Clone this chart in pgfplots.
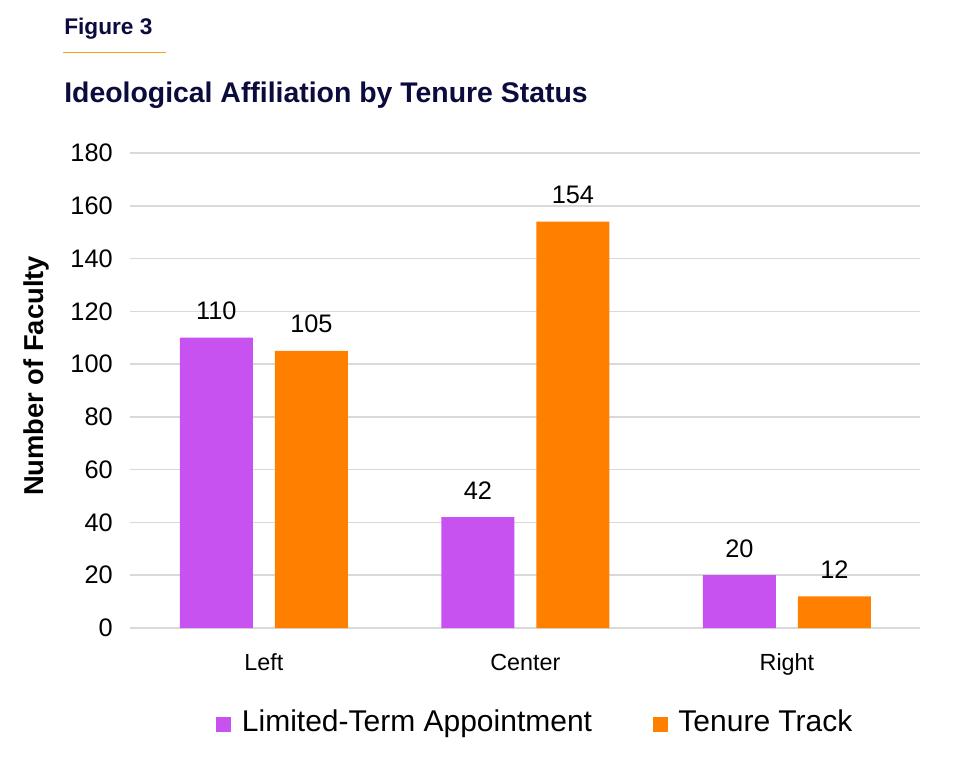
\documentclass[border=0pt]{standalone}
\usepackage{pgfplots}
\pgfplotsset{compat=1.18}
\usepackage{fontspec}
\setmainfont{Liberation Sans}

\definecolor{ltpurple}{HTML}{C852F0}
\definecolor{ttorange}{HTML}{FF8000}
\definecolor{navy}{HTML}{0B0B3D}
\definecolor{rulecol}{HTML}{F5A01A}
\definecolor{gridgrey}{HTML}{D9D9D9}

\begin{document}
\begin{tikzpicture}
\path[use as bounding box] (0,0) rectangle (719.25pt,573.75pt);
% header
\node[anchor=base west, inner sep=0pt, text=navy, font=\fontsize{17}{20}\selectfont\bfseries]
  at (48pt,547.5pt) {Figure 3};
\draw[rulecol, line width=1.1pt] (47.25pt,534.5pt) -- (124.5pt,534.5pt);
\node[anchor=base west, inner sep=0pt, text=navy, font=\fontsize{21.3}{25}\selectfont\bfseries]
  at (48pt,497pt) {Ideological Affiliation by Tenure Status};

\begin{axis}[
  at={(97.5pt,102.75pt)}, anchor=south west,
  scale only axis, width=592.5pt, height=356.25pt,
  ybar=16.5pt, bar width=54.75pt,
  xmin=-0.512, xmax=2.509, ymin=0, ymax=180,
  xtick=data, xticklabels={Left,Center,Right},
  ytick={0,20,...,180},
  axis line style={draw=none},
  major tick length=0pt,
  ymajorgrids, grid style={gridgrey, line width=1.1pt},
  /pgf/number format/assume math mode=true,
  yticklabel style={font=\fontsize{19}{22}\selectfont, anchor=east, inner sep=0pt, xshift=-12.75pt},
  xticklabel style={font=\fontsize{17.5}{21}\selectfont, anchor=base, inner sep=0pt, yshift=-31.5pt},
  ylabel={Number of Faculty},
  ylabel style={font=\fontsize{20.5}{24}\selectfont\bfseries, at={(axis description cs:-0.1101,0.5305)}, anchor=base, rotate=0},
  nodes near coords,
  every node near coord/.append style={font=\fontsize{19}{22}\selectfont, anchor=base, inner sep=0pt, yshift=13.5pt, text=black},
  legend columns=2,
  legend style={draw=none, fill=none, inner sep=0pt,
    at={(axis description cs:0.1089,-0.198)}, anchor=west,
    font=\fontsize{22.5}{26}\selectfont,
    cells={anchor=base west},
    /tikz/every odd column/.append style={column sep=6pt},
    /tikz/every even column/.append style={column sep=43.5pt}},
  legend image code/.code={\fill[#1] (0pt,0pt) rectangle (11.25pt,11.25pt);},
]
\addplot[fill=ltpurple, draw=none] coordinates {(0,110) (1,42) (2,20)};
\addplot[fill=ttorange, draw=none] coordinates {(0,105) (1,154) (2,12)};
\legend{Limited-Term Appointment, Tenure Track}
\end{axis}
\end{tikzpicture}
\end{document}
